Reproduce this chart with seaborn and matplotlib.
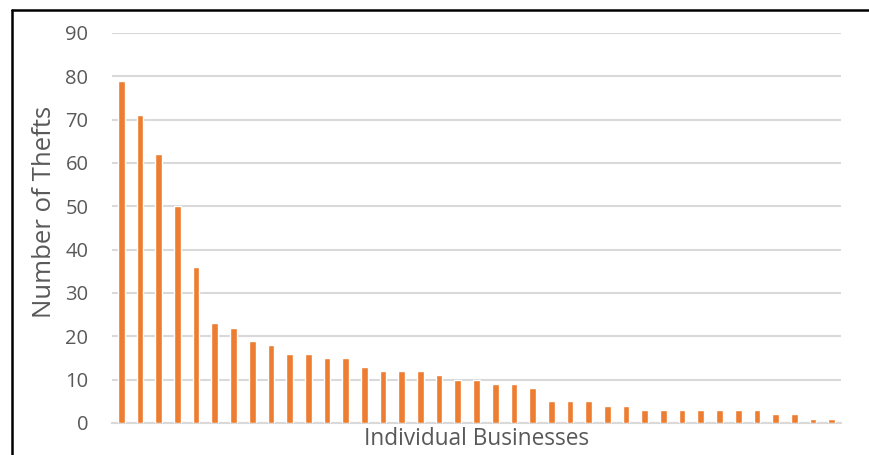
import matplotlib
matplotlib.use("Agg")
import matplotlib.pyplot as plt
from matplotlib.lines import Line2D
import seaborn as sns
import pandas as pd

businesses = [f"B{i+1}" for i in range(39)]
thefts = [79, 71, 62, 50, 36, 23, 22, 19, 18, 16, 16, 15, 15, 13, 12, 12, 12, 11,
          10, 10, 9, 9, 8, 5, 5, 5, 4, 4, 3, 3, 3, 3, 3, 3, 3, 2, 2, 1, 1]
yticks = [0, 10, 20, 30, 40, 50, 60, 70, 80, 90]

df = pd.DataFrame({"business": businesses, "thefts": thefts})

sns.set_theme(style="white")
plt.rcParams["font.family"] = ["Open Sans", "DejaVu Sans"]

fig = plt.figure(figsize=(8.69, 4.55), dpi=100)
ax = fig.add_axes([112/869, 1 - 423/455, (841 - 112)/869, (423 - 33)/455])

sns.barplot(data=df, x="business", y="thefts", color="#ED7D31", width=0.36,
            saturation=1, ax=ax, zorder=3)

ax.set_ylim(0, 90)
ax.set_xlim(-0.5, len(businesses) - 0.5)
ax.set_yticks(yticks)
ax.set_yticklabels([str(v) for v in yticks])
ax.set_xticks([])
ax.yaxis.grid(True, color="#D9D9D9", linewidth=1.5, zorder=0)
ax.set_axisbelow(True)
for s in ["top", "right", "left"]:
    ax.spines[s].set_visible(False)
ax.spines["bottom"].set_color("#D9D9D9")
ax.spines["bottom"].set_linewidth(1.5)
ax.tick_params(axis="y", length=0, pad=17, labelsize=14.5, labelcolor="#595959")

ax.set_xlabel("Individual Businesses", fontsize=16.3, color="#595959", labelpad=3)
ax.set_ylabel("Number of Thefts", fontsize=18.5, color="#595959", labelpad=6, y=0.54)

# outer frame fragments
fig.add_artist(Line2D([12/869, 1.0], [1 - 10/455, 1 - 10/455], color="black", linewidth=1.8))
fig.add_artist(Line2D([12/869, 12/869], [0, 1 - 10/455], color="black", linewidth=1.8))

fig.savefig("out.png", dpi=100)
